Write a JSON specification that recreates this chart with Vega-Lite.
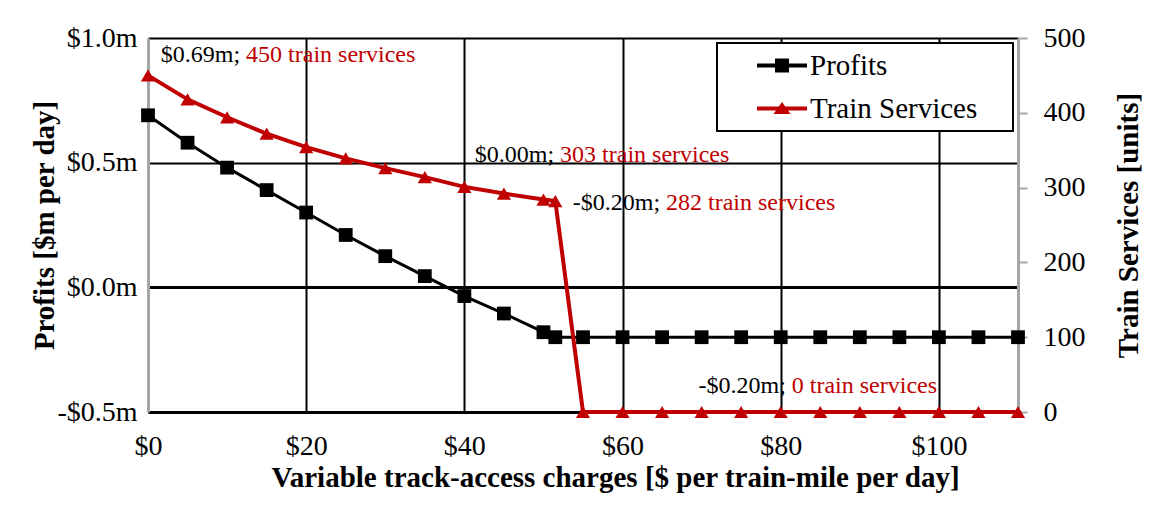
{
  "$schema": "https://vega.github.io/schema/vega-lite/v6.json",
  "width": 870,
  "height": 374,
  "autosize": {"type": "none"},
  "padding": {"left": 148, "top": 38, "right": 138, "bottom": 96},
  "background": "white",
  "config": {
    "font": "Liberation Serif",
    "view": {"stroke": null},
    "axis": {"labelFont": "Liberation Serif", "titleFont": "Liberation Serif", "labelColor": "black", "titleColor": "black", "labelFlush": false, "labelOverlap": false}
  },
  "datasets": {
    "series": [
      {"x": 0, "series": "Profits", "value": 0.69},
      {"x": 5, "series": "Profits", "value": 0.58},
      {"x": 10, "series": "Profits", "value": 0.48},
      {"x": 15, "series": "Profits", "value": 0.39},
      {"x": 20, "series": "Profits", "value": 0.30},
      {"x": 25, "series": "Profits", "value": 0.21},
      {"x": 30, "series": "Profits", "value": 0.125},
      {"x": 35, "series": "Profits", "value": 0.045},
      {"x": 40, "series": "Profits", "value": -0.035},
      {"x": 45, "series": "Profits", "value": -0.105},
      {"x": 50, "series": "Profits", "value": -0.18},
      {"x": 51.5, "series": "Profits", "value": -0.20},
      {"x": 55, "series": "Profits", "value": -0.20},
      {"x": 60, "series": "Profits", "value": -0.20},
      {"x": 65, "series": "Profits", "value": -0.20},
      {"x": 70, "series": "Profits", "value": -0.20},
      {"x": 75, "series": "Profits", "value": -0.20},
      {"x": 80, "series": "Profits", "value": -0.20},
      {"x": 85, "series": "Profits", "value": -0.20},
      {"x": 90, "series": "Profits", "value": -0.20},
      {"x": 95, "series": "Profits", "value": -0.20},
      {"x": 100, "series": "Profits", "value": -0.20},
      {"x": 105, "series": "Profits", "value": -0.20},
      {"x": 110, "series": "Profits", "value": -0.20},
      {"x": 0, "series": "Train Services", "value": 450},
      {"x": 5, "series": "Train Services", "value": 418},
      {"x": 10, "series": "Train Services", "value": 394},
      {"x": 15, "series": "Train Services", "value": 372},
      {"x": 20, "series": "Train Services", "value": 354},
      {"x": 25, "series": "Train Services", "value": 339},
      {"x": 30, "series": "Train Services", "value": 326},
      {"x": 35, "series": "Train Services", "value": 314},
      {"x": 40, "series": "Train Services", "value": 301},
      {"x": 45, "series": "Train Services", "value": 292},
      {"x": 50, "series": "Train Services", "value": 284},
      {"x": 51.5, "series": "Train Services", "value": 282},
      {"x": 55, "series": "Train Services", "value": 0},
      {"x": 60, "series": "Train Services", "value": 0},
      {"x": 65, "series": "Train Services", "value": 0},
      {"x": 70, "series": "Train Services", "value": 0},
      {"x": 75, "series": "Train Services", "value": 0},
      {"x": 80, "series": "Train Services", "value": 0},
      {"x": 85, "series": "Train Services", "value": 0},
      {"x": 90, "series": "Train Services", "value": 0},
      {"x": 95, "series": "Train Services", "value": 0},
      {"x": 100, "series": "Train Services", "value": 0},
      {"x": 105, "series": "Train Services", "value": 0},
      {"x": 110, "series": "Train Services", "value": 0}
    ],
    "notes": [
      {"x": 12.4, "value": 0.904, "black": "$0.69m;", "red": "450 train services"},
      {"x": 52.1, "value": 0.504, "black": "$0.00m;", "red": "303 train services"},
      {"x": 65.5, "value": 0.31, "black": "-$0.20m;", "red": "282 train services"},
      {"x": 81.4, "value": -0.424, "black": "-$0.20m;", "red": "0 train services"}
    ]
  },
  "layer": [
    {
      "encoding": {
        "x": {
          "field": "x", "type": "quantitative",
          "scale": {"domain": [0, 110], "nice": false, "zero": false},
          "axis": {
            "values": [0, 20, 40, 60, 80, 100],
            "labelExpr": "'$' + datum.value",
            "title": "Variable track-access charges [$ per train-mile per day]",
            "titleFontSize": 29, "titleFontWeight": "bold", "titleFont": "Liberation Serif", "labelFont": "Liberation Serif",
            "titleX": 467, "titleY": 65, "titleBaseline": "middle", "titleAlign": "center",
            "labelFontSize": 28, "labelPadding": 20,
            "ticks": false, "tickSize": 0,
            "domainColor": "black", "domainWidth": 3,
            "grid": true,
            "gridColor": {"condition": {"test": "datum.value === 0", "value": "transparent"}, "value": "black"},
            "gridWidth": 2, "gridOpacity": 1
          }
        },
        "y": {
          "field": "value", "type": "quantitative",
          "scale": {"domain": [-0.5, 1.0], "nice": false, "zero": false},
          "axis": {
            "orient": "left",
            "values": [-0.5, 0, 0.5, 1.0],
            "labelExpr": "(datum.value < 0 ? '-$' : '$') + format(abs(datum.value), '.1f') + 'm'",
            "title": "Profits [$m per day]",
            "titleFontSize": 29, "titleFontWeight": "bold", "titleFont": "Liberation Serif", "labelFont": "Liberation Serif",
            "titleAngle": -90, "titleX": -104, "titleY": 187, "titleBaseline": "middle", "titleAlign": "center",
            "labelFontSize": 28, "labelPadding": 11,
            "ticks": false, "tickSize": 0,
            "domainColor": "#a6a6a6", "domainWidth": 3,
            "grid": true, "gridColor": "black", "gridOpacity": 1,
            "gridWidth": {"condition": {"test": "datum.value === 0", "value": 3}, "value": 2}
          }
        }
      },
      "layer": [
        {
          "data": {"name": "series"},
          "transform": [{"filter": "datum.series === 'Profits'"}],
          "mark": {"type": "line", "strokeWidth": 3},
          "encoding": {
            "color": {
              "field": "series", "type": "nominal",
              "scale": {"domain": ["Profits", "Train Services"], "range": ["black", "#c00000"]},
              "legend": {
                "orient": "none", "legendX": 569, "legendY": 5,
                "title": "\u00a0", "titleOrient": "right", "titlePadding": 35, "titleFontSize": 10,
                "padding": 1, "strokeColor": "black", "fillColor": "white",
                "symbolOffset": 39, "labelOffset": 3, "clipHeight": 43, "rowPadding": 0,
                "symbolSize": 2500,
                "labelFontSize": 29, "labelFont": "Liberation Serif", "labelColor": "black", "labelLimit": 0,
                "encode": {
                  "legend": {"update": {"strokeWidth": {"value": 2}}},
                  "symbols": {
                    "update": {
                      "shape": {"signal": "datum.value === 'Profits' ? 'M-1,-0.08H1V0.08H-1Z M-0.28,-0.28H0.28V0.28H-0.28Z' : 'M-1,-0.08H1V0.08H-1Z M0,-0.26L0.34,0.22H-0.34Z'"},
                      "fill": {"signal": "datum.value === 'Profits' ? 'black' : '#c00000'"},
                      "stroke": {"value": "transparent"},
                      "strokeWidth": {"value": 0},
                      "opacity": {"value": 1},
                      "size": {"value": 2500}
                    }
                  }
                }
              }
            }
          }
        },
        {
          "data": {"name": "series"},
          "transform": [{"filter": "datum.series === 'Profits'"}],
          "mark": {"type": "point", "shape": "square", "filled": true, "size": 190, "opacity": 1, "color": "black"}
        },
        {
          "data": {"name": "notes"},
          "mark": {"type": "text", "align": "right", "baseline": "alphabetic", "dx": -6, "fontSize": 24, "font": "Liberation Serif", "color": "black"},
          "encoding": {"text": {"field": "black"}}
        },
        {
          "data": {"name": "notes"},
          "mark": {"type": "text", "align": "left", "baseline": "alphabetic", "fontSize": 24, "font": "Liberation Serif", "color": "#c00000"},
          "encoding": {"text": {"field": "red"}}
        }
      ]
    },
    {
      "encoding": {
        "x": {"field": "x", "type": "quantitative", "scale": {"domain": [0, 110], "nice": false, "zero": false}},
        "y": {
          "field": "value", "type": "quantitative",
          "scale": {"domain": [0, 500], "nice": false},
          "axis": {
            "orient": "right",
            "values": [0, 100, 200, 300, 400, 500],
            "title": "Train Services [units]",
            "titleFontSize": 29, "titleFontWeight": "bold", "titleFont": "Liberation Serif", "labelFont": "Liberation Serif",
            "titleAngle": -90, "titleX": 110, "titleY": 187, "titleBaseline": "middle", "titleAlign": "center",
            "labelFontSize": 28, "labelPadding": 16,
            "ticks": true, "tickColor": "#a6a6a6", "tickSize": 9, "tickWidth": 2,
            "domainColor": "#a6a6a6", "domainWidth": 3,
            "grid": false
          }
        }
      },
      "layer": [
        {
          "data": {"name": "series"},
          "transform": [{"filter": "datum.series === 'Train Services'"}],
          "mark": {"type": "line", "strokeWidth": 4},
          "encoding": {
            "color": {"field": "series", "type": "nominal"}
          }
        },
        {
          "data": {"name": "series"},
          "transform": [{"filter": "datum.series === 'Train Services'"}],
          "mark": {"type": "point", "shape": "triangle-up", "filled": true, "size": 200, "opacity": 1, "color": "#c00000"}
        }
      ]
    }
  ],
  "resolve": {"scale": {"y": "independent"}}
}
